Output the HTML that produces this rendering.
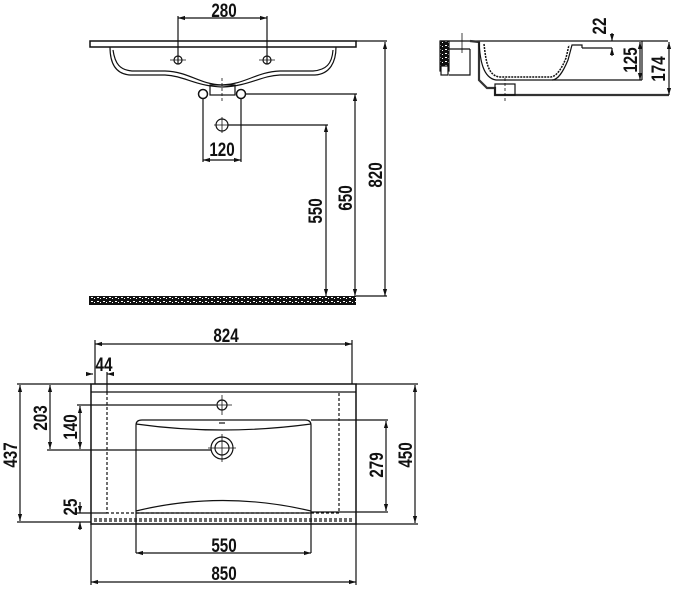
<!DOCTYPE html>
<html><head><meta charset="utf-8"><style>
html,body{margin:0;padding:0;background:#fff;}
svg{display:block}
text{font-family:"Liberation Sans",sans-serif;font-weight:bold;font-size:19px;fill:#111;}
</style></head><body>
<svg width="675" height="589" viewBox="0 0 675 589" xmlns="http://www.w3.org/2000/svg">
<defs>
<marker id="a" viewBox="0 0 10 10" refX="10" refY="5" markerWidth="6" markerHeight="6" orient="auto-start-reverse"><path d="M0,2 L10,5 L0,8 z" fill="#111"/></marker>
<pattern id="sp" width="6" height="4" patternUnits="userSpaceOnUse"><rect width="6" height="4" fill="#111"/><rect x="1" y="1" width="2" height="1" fill="#fff"/><rect x="4" y="2" width="1" height="1" fill="#fff"/></pattern>
</defs>
<g stroke="#111" fill="none" stroke-width="1.2">
<rect x="90" y="41" width="266" height="6" stroke-width="1.5"/>
<path d="M110,47 C110,62 115,74 130,75 L165,75 C185,76 195,86 222,87 C250,86 260,76 280,75 L315,75 C330,74 336,62 336,47"/>
<path d="M113,50 C115,64 120,70 132,71 L165,71 C190,72 198,84 222,85 C246,84 256,72 280,71 L313,71 C326,70 332,64 333,50"/>
<rect x="210" y="85" width="25" height="10"/>
<line x1="222" y1="78" x2="222" y2="101" stroke-dasharray="3,2" stroke-width="0.8"/>
<circle cx="203" cy="94" r="4.5" stroke-width="1.5"/><circle cx="241" cy="94" r="4.5" stroke-width="1.5"/>
<circle cx="178" cy="60" r="4"/><circle cx="267" cy="60" r="4"/>
<path d="M170,60 H186 M259,60 H275" stroke-width="0.8"/>
<circle cx="222" cy="125" r="6"/><path d="M214,125 H230 M222,117 V133" stroke-width="0.8"/>
<line x1="178" y1="18" x2="267" y2="18" marker-start="url(#a)" marker-end="url(#a)"/>
<path d="M178,16 V64 M267,16 V64"/>
<path d="M203,99 V162 M241,99 V162"/>
<line x1="203" y1="160" x2="241" y2="160" marker-start="url(#a)" marker-end="url(#a)"/>
<path d="M356,41 H387 M246,94 H357 M228,125 H328 M356,296 H387"/>
<line x1="385" y1="42" x2="385" y2="296" marker-start="url(#a)" marker-end="url(#a)"/>
<line x1="355" y1="94" x2="355" y2="296" marker-start="url(#a)" marker-end="url(#a)"/>
<line x1="326" y1="125" x2="326" y2="296" marker-start="url(#a)" marker-end="url(#a)"/>
<rect x="89" y="296" width="267" height="9" fill="url(#sp)" stroke="none"/>
<rect x="440" y="41" width="9" height="30" fill="url(#sp)" stroke="#111"/>
<rect x="441" y="66" width="7" height="9" fill="#fff"/>
<path d="M440,41 H668 M449,49 H470 M449,75 H470 V49"/>
<path d="M470,41 L479,42 L479,80 L487,88 L495,88 L495,95 H669" stroke-width="2.2" stroke="#333"/>
<path d="M479,42 C480,60 483,78 496,80 L552,80 C558,80 563,72 568,60 L572,45 L582,45 L582,48"/>
<path d="M484,44 C486,62 488,76 500,77 L551,77 C557,76 562,68 566,58 L569,45" stroke-width="1.5" stroke-dasharray="2,1"/>
<path d="M582,48 H612 M552,80 H642 M642,41 V80"/>
<rect x="495" y="84" width="20" height="11"/>
<line x1="505" y1="78" x2="505" y2="102" stroke-dasharray="3,2" stroke-width="0.8"/>
<line x1="462" y1="33" x2="462" y2="53" stroke-width="0.8"/>
<line x1="612" y1="33" x2="612" y2="41" marker-end="url(#a)"/>
<line x1="612" y1="56" x2="612" y2="48" marker-end="url(#a)"/>
<line x1="640" y1="42" x2="640" y2="80" marker-start="url(#a)" marker-end="url(#a)"/>
<line x1="669" y1="42" x2="669" y2="95" marker-start="url(#a)" marker-end="url(#a)"/>
<rect x="91" y="384" width="265" height="140" stroke-width="1.5"/>
<line x1="91" y1="392" x2="356" y2="392"/>
<path d="M107,392 V513 H339 V392" stroke-dasharray="3,2"/>
<path d="M94,519 H353 M94,521 H353" stroke-dasharray="3,2"/>
<path d="M136,553 V425 Q136,420 142,420 H305 Q311,420 311,425 V553"/>
<path d="M136,424 Q222,436 311,424"/>
<path d="M136,511 Q222,490 311,511 M136,513 H311"/>
<line x1="219" y1="423" x2="225" y2="423"/>
<circle cx="222" cy="405" r="5"/><path d="M212,405 H232 M222,395 V415" stroke-width="0.8"/>
<circle cx="222" cy="448" r="11"/><circle cx="222" cy="448" r="7"/><path d="M208,448 H236 M222,434 V462" stroke-width="0.8"/>
<path d="M95,384 V340 M352,384 V340"/>
<line x1="95" y1="344" x2="352" y2="344" marker-start="url(#a)" marker-end="url(#a)"/>
<line x1="86" y1="374" x2="93" y2="374" marker-end="url(#a)"/>
<line x1="114" y1="374" x2="107" y2="374" marker-end="url(#a)"/>
<line x1="107" y1="372" x2="107" y2="392"/>
<path d="M91,524 V585 M356,524 V585"/>
<line x1="91" y1="582" x2="356" y2="582" marker-start="url(#a)" marker-end="url(#a)"/>
<line x1="136" y1="553" x2="311" y2="553" marker-start="url(#a)" marker-end="url(#a)"/>
<path d="M356,384 H418 M356,524 H418 M311,420 H388 M311,512 H388"/>
<line x1="415" y1="385" x2="415" y2="523" marker-start="url(#a)" marker-end="url(#a)"/>
<line x1="386" y1="421" x2="386" y2="511" marker-start="url(#a)" marker-end="url(#a)"/>
<path d="M17,384 H91 M17,522 H91 M47,450 H211 M77,405 H216 M76,513 H107"/>
<line x1="20" y1="385" x2="20" y2="521" marker-start="url(#a)" marker-end="url(#a)"/>
<line x1="50" y1="385" x2="50" y2="449" marker-start="url(#a)" marker-end="url(#a)"/>
<line x1="80" y1="406" x2="80" y2="449" marker-start="url(#a)" marker-end="url(#a)"/>
<line x1="80" y1="502" x2="80" y2="513" marker-end="url(#a)"/>
<line x1="80" y1="530" x2="80" y2="522" marker-end="url(#a)"/>
</g>
<g text-anchor="middle">
<text transform="translate(224,17) scale(0.8,1)">280</text>
<text transform="translate(222,156) scale(0.8,1)">120</text>
<text transform="translate(382,175) rotate(-90) scale(0.8,1)">820</text>
<text transform="translate(352,198) rotate(-90) scale(0.8,1)">650</text>
<text transform="translate(322,211) rotate(-90) scale(0.8,1)">550</text>
<text transform="translate(606,26) rotate(-90) scale(0.8,1)">22</text>
<text transform="translate(637,60) rotate(-90) scale(0.8,1)">125</text>
<text transform="translate(665,69) rotate(-90) scale(0.8,1)">174</text>
<text transform="translate(226,342) scale(0.8,1)">824</text>
<text transform="translate(104,371) scale(0.8,1)">44</text>
<text transform="translate(224,552) scale(0.8,1)">550</text>
<text transform="translate(224,580) scale(0.8,1)">850</text>
<text transform="translate(17,455) rotate(-90) scale(0.8,1)">437</text>
<text transform="translate(47,418) rotate(-90) scale(0.8,1)">203</text>
<text transform="translate(77,427) rotate(-90) scale(0.8,1)">140</text>
<text transform="translate(77,507) rotate(-90) scale(0.8,1)">25</text>
<text transform="translate(383,465) rotate(-90) scale(0.8,1)">279</text>
<text transform="translate(412,455) rotate(-90) scale(0.8,1)">450</text>
</g>
</svg>
</body></html>
